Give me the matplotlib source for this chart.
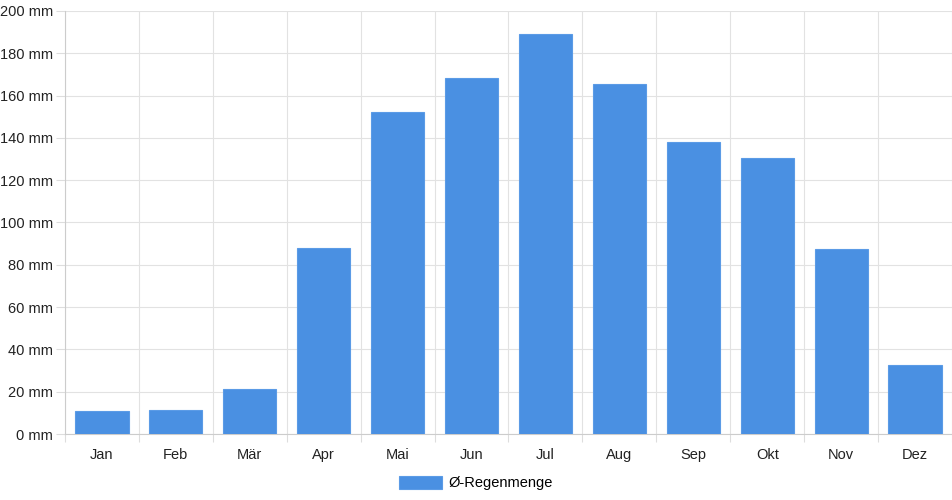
import matplotlib.pyplot as plt
import numpy as np

# Monatswerte (mm)
months = ['Jan', 'Feb', 'Mär', 'Apr', 'Mai', 'Jun', 'Jul', 'Aug', 'Sep', 'Okt', 'Nov', 'Dez']
rain = [11, 11.5, 21.3, 88, 152.1, 168.5, 189, 165.3, 138.1, 130.5, 87.5, 32.6]
yticks = [0, 20, 40, 60, 80, 100, 120, 140, 160, 180, 200]

plt.rcParams['font.family'] = ['Liberation Sans', 'DejaVu Sans']

fig = plt.figure(figsize=(9.52, 5.0), dpi=100)
ax = fig.add_axes([65 / 952, 66 / 500, 887 / 952, 423 / 500])

x = np.arange(len(months))
bars = ax.bar(x, rain, width=0.72, color='#4a90e2', edgecolor='#5b9be6', linewidth=0.8,
              label='Ø-Regenmenge', zorder=3)

ax.set_xlim(-0.5, len(months) - 0.5)
ax.set_ylim(0, 200)
ax.set_yticks(yticks)
ax.set_yticklabels([f'{v} mm' for v in yticks], fontsize=10.5, color='#222222')
ax.set_xticks(x)
ax.set_xticklabels(months, fontsize=10.5, color='#222222')
ax.set_xticks(np.arange(len(months) + 1) - 0.5, minor=True)

ax.tick_params(axis='x', which='major', length=0, pad=10)
ax.tick_params(axis='x', which='minor', length=5.8, color='#dddddd', width=0.8)
ax.tick_params(axis='y', length=6.5, color='#dddddd', width=0.8, pad=2)

ax.grid(axis='y', color='#e2e2e2', linewidth=0.8, zorder=0)
ax.grid(axis='x', which='minor', color='#e2e2e2', linewidth=0.8, zorder=0)

for s in ['top', 'right']:
    ax.spines[s].set_visible(False)
ax.spines['left'].set_color('#cccccc')
ax.spines['bottom'].set_color('#cccccc')
ax.spines['left'].set_linewidth(0.8)
ax.spines['bottom'].set_linewidth(0.8)

fig.legend(handles=[bars], labels=['Ø-Regenmenge'], loc='center', bbox_to_anchor=(0.5, 17 / 500),
           frameon=False, fontsize=10.5, handlelength=2.9, handleheight=1.0, handletextpad=0.45)

fig.savefig('out.png', dpi=100)
